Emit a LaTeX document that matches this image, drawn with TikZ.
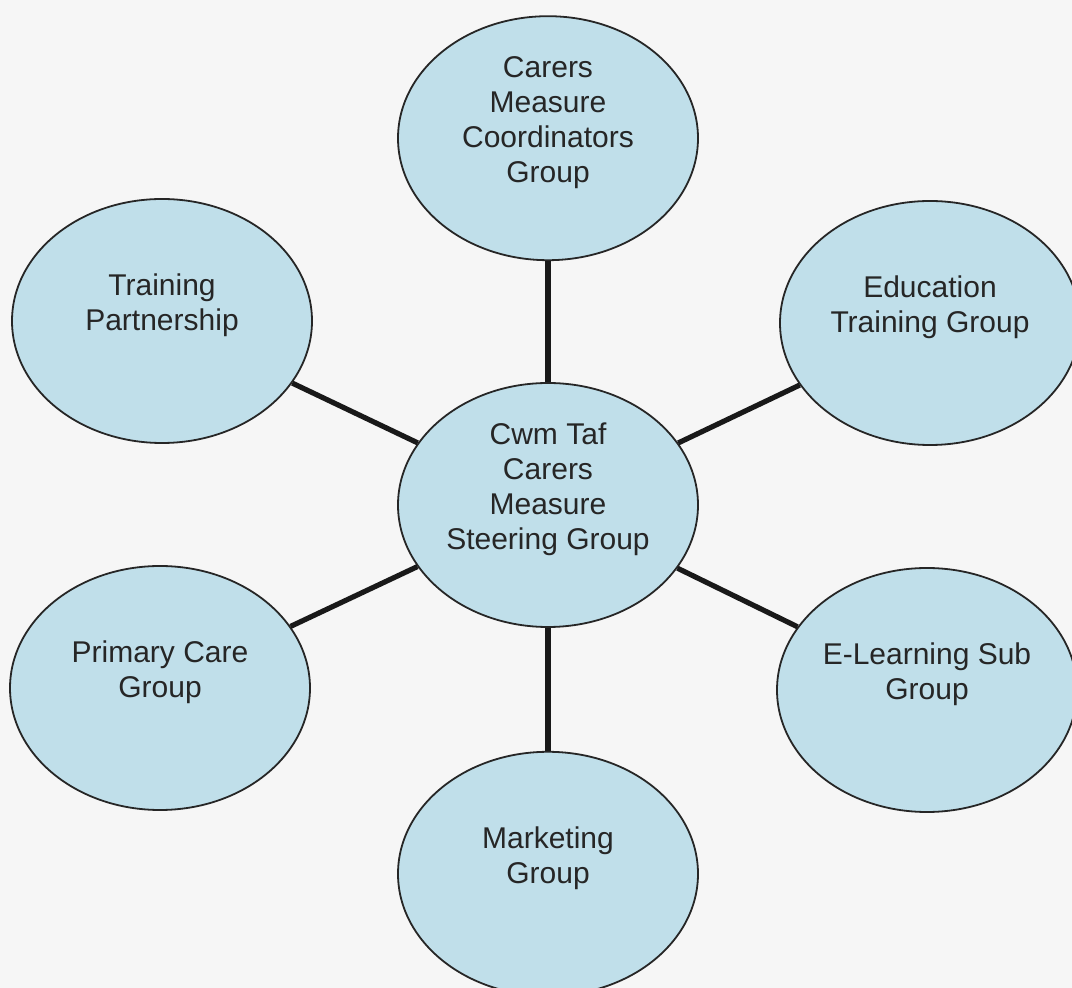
\documentclass[tikz,border=0pt]{standalone}
\usepackage{fontspec}
\setmainfont{Liberation Sans}
\usetikzlibrary{shapes,positioning}
\definecolor{groupblue}{RGB}{192,223,234}
\definecolor{paper}{RGB}{246,246,246}
\definecolor{ink}{RGB}{38,38,38}
\tikzstyle{group}=[ellipse, draw=ink, line width=0.9pt, fill=groupblue,
        minimum width=150pt, minimum height=122pt, inner sep=0pt,
        text=ink, font=\fontsize{15}{17.5}\selectfont]
\tikzstyle{link}=[line width=2.6pt, draw=black!90]
% labels sit a little above the middle of each ellipse
\newcommand{\grouplabel}[1]{\raisebox{7.5pt}[\height][\depth]{\begin{tabular}{@{}c@{}}#1\end{tabular}}}

\begin{document}
\begin{tikzpicture}[x=0.5pt, y=-0.5pt]
        \fill[paper] (0,0) rectangle (1072,988);
        \useasboundingbox (0,0) rectangle (1072,988);
        \node (Steering) [group] at (548,505)
        {\grouplabel{Cwm Taf\\Carers\\Measure\\Steering Group}};
        \node (Coordinators) [group, above=60.5pt of Steering]
        {\grouplabel{Carers\\Measure\\Coordinators\\Group}};
        \node (Marketing) [group, below=61.5pt of Steering]
        {\grouplabel{Marketing\\Group}};
        \node (Training) [group] at (162,321)
        {\grouplabel{Training\\Partnership}};
        \node (Education) [group] at (930,323)
        {\grouplabel{Education\\Training Group}};
        \node (Primary) [group] at (160,688)
        {\grouplabel{Primary Care\\Group}};
        \node (Elearning) [group] at (927,690)
        {\grouplabel{E-Learning Sub\\Group}};
        % spokes out from the steering group
        \foreach \n in {Coordinators,Training,Education,Primary,Elearning,Marketing}
          \draw[link] (Steering) -- (\n);
\end{tikzpicture}
\end{document}
